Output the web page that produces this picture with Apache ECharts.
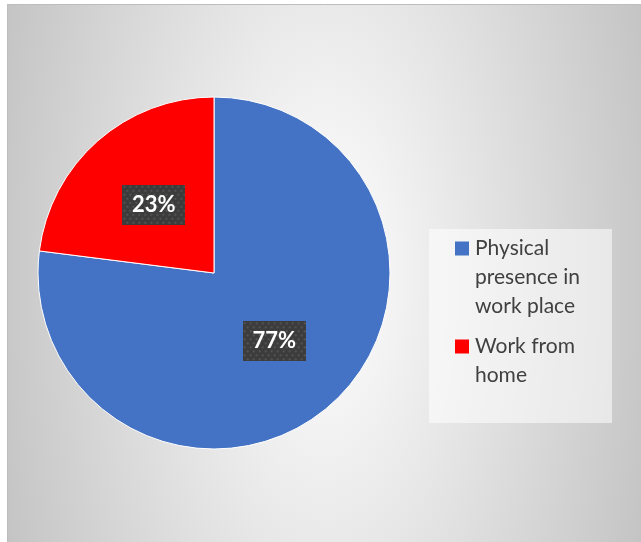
<!DOCTYPE html>
<html>
<head>
<meta charset="utf-8">
<script src="https://cdn.jsdelivr.net/npm/echarts@6/dist/echarts.min.js"></script>
<style>
  html, body { margin: 0; padding: 0; background: #ffffff; }
  #chart { width: 641px; height: 542px; }
</style>
</head>
<body>
<div id="chart"></div>
<script>
// Share of workers by place of work
const categories = ['Physical presence in work place', 'Work from home'];
const shares = [77, 23];
const colors = ['#4472c4', '#ff0000'];
// Legend text, broken over lines
const legendLines = [['Physical', 'presence in', 'work place'], ['Work from', 'home']];

// Dotted dark fill used behind the value labels
function makeDotTile(w, h) {
  const c = document.createElement('canvas');
  c.width = w; c.height = h;
  const g = c.getContext('2d');
  g.fillStyle = '#3c3c3c';
  g.fillRect(0, 0, w, h);
  g.fillStyle = '#535353';
  for (let y = 1, row = 0; y < h; y += 4, row++) {
    for (let x = (row % 2) * 3 + 1; x < w; x += 6) {
      g.fillRect(x, y, 2, 2);
    }
  }
  return c;
}
const dotTile = makeDotTile(63, 40);

const chart = echarts.init(document.getElementById('chart'), null, { renderer: 'canvas' });

const areaW = 634, areaH = 538, sy = 2.13;
const rich = {
  g: { width: 6 },
  n: { width: 14 },
  t: { fontSize: 21, color: '#404040', fontFamily: 'Lato', lineHeight: 29 }
};
colors.forEach((c, i) => {
  rich['s' + i] = { width: 14, height: 14, backgroundColor: c };
});

const option = {
  backgroundColor: '#ffffff',
  animation: false,
  graphic: [
    {
      type: 'rect', x: 7, y: 4, scaleY: sy, z: -10, silent: true,
      shape: { x: 0, y: 0, width: areaW, height: areaH / sy },
      style: {
        fill: {
          type: 'radial', global: true, x: areaW / 2, y: areaH / 2 / sy, r: 342,
          colorStops: [
            { offset: 0, color: '#ffffff' },
            { offset: 1, color: '#c4c4c4' }
          ]
        }
      }
    },
    {
      type: 'rect', x: 7, y: 4, z: -9, silent: true,
      shape: { x: 0.5, y: 0.5, width: areaW, height: areaH },
      style: { fill: 'none', stroke: '#bdbdbd', lineWidth: 1 }
    },
    {
      type: 'rect', x: 429, y: 229, z: 1, silent: true,
      shape: { width: 183, height: 194 },
      style: { fill: 'rgba(255,255,255,0.55)' }
    }
  ],
  legend: {
    orient: 'vertical',
    left: 450,
    top: 234,
    padding: 0,
    itemGap: 11,
    icon: 'none',
    itemWidth: 0,
    itemHeight: 0,
    selectedMode: false,
    data: categories,
    formatter: function (name) {
      const i = categories.indexOf(name);
      return legendLines[i].map((line, k) =>
        (k === 0 ? '{s' + i + '|}' : '{n|}') + '{g|}{t|' + line + '}'
      ).join('\n');
    },
    textStyle: { rich: rich, fontSize: 21, lineHeight: 29 }
  },
  series: [{
    type: 'pie',
    center: [214, 273],
    radius: 176,
    startAngle: 90,
    clockwise: true,
    avoidLabelOverlap: false,
    emphasis: { disabled: true },
    itemStyle: { borderColor: '#ffffff', borderWidth: 1 },
    label: {
      show: true,
      position: 'inside',
      formatter: p => p.value + '%',
      color: '#ffffff',
      fontFamily: 'Lato',
      fontWeight: 'bold',
      fontSize: 22,
      width: 45,
      height: 22,
      lineHeight: 22,
      align: 'center',
      verticalAlign: 'middle',
      padding: [9, 9],
      backgroundColor: { image: dotTile },
      shadowColor: 'rgba(0,0,0,0.45)',
      shadowBlur: 6,
      shadowOffsetX: 2,
      shadowOffsetY: 3
    },
    labelLine: { show: false },
    data: categories.map((name, i) => ({
      name: name,
      value: shares[i],
      itemStyle: { color: colors[i] }
    }))
  }]
};

chart.setOption(option);
</script>
</body>
</html>
